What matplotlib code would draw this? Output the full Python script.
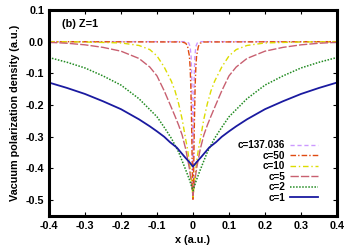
import numpy as np
import matplotlib
matplotlib.use("Agg")
import matplotlib.pyplot as plt

plt.rcParams['font.family'] = ['Liberation Sans', 'DejaVu Sans']
plt.rcParams['font.weight'] = 'bold'

# one-sided samples (x >= 0), curves are symmetric about x = 0
x_c1 = [0.0, 0.01, 0.022, 0.045, 0.064, 0.08, 0.1, 0.12, 0.15, 0.2, 0.25, 0.3, 0.35, 0.4]
y_c1 = [-0.394, -0.38, -0.365, -0.334, -0.317, -0.30, -0.283, -0.267, -0.245, -0.213, -0.188, -0.165, -0.146, -0.129]

x_c2 = [0.0, 0.01, 0.02, 0.04, 0.06, 0.08, 0.1, 0.15, 0.2, 0.25, 0.3, 0.35, 0.4]
y_c2 = [-0.47, -0.435, -0.405, -0.348, -0.305, -0.27, -0.237, -0.18, -0.137, -0.108, -0.083, -0.065, -0.05]

x_c5 = [0.0, 0.005, 0.01, 0.02, 0.03, 0.04, 0.05, 0.06, 0.08, 0.1, 0.12, 0.15, 0.2, 0.25, 0.3, 0.35, 0.4]
y_c5 = [-0.485, -0.44, -0.40, -0.34, -0.295, -0.263, -0.235, -0.208, -0.155, -0.108, -0.08, -0.053, -0.03, -0.018, -0.01, -0.005, -0.002]

x_c10 = [0.0, 0.005, 0.01, 0.015, 0.02, 0.03, 0.04, 0.05, 0.06, 0.08, 0.1, 0.12, 0.15, 0.2, 0.3, 0.4]
y_c10 = [-0.49, -0.43, -0.38, -0.34, -0.31, -0.245, -0.195, -0.155, -0.125, -0.08, -0.045, -0.025, -0.012, -0.004, -0.001, 0.0]

x_c50 = [0.0, 0.001, 0.002, 0.003, 0.004, 0.006, 0.008, 0.01, 0.015, 0.02, 0.03, 0.4]
y_c50 = [-0.50, -0.46, -0.40, -0.32, -0.25, -0.14, -0.08, -0.045, -0.015, -0.005, -0.001, 0.0]

x_c137 = [0.0, 0.0005, 0.001, 0.002, 0.003, 0.005, 0.008, 0.012, 0.02, 0.4]
y_c137 = [-0.50, -0.44, -0.36, -0.22, -0.13, -0.05, -0.015, -0.004, 0.0, 0.0]

labels = ["c=137.036", "c=50", "c=10", "c=5", "c=2", "c=1"]
colors = ["#cc99ff", "#e04a10", "#dcdc00", "#c86070", "#228b22", "#1a1aa0"]
styles = [(0, (3, 2)), (0, (4, 1.5, 1, 1.5)), (0, (4, 2, 1, 2)), (0, (6, 1.5)), (0, (1, 1)), "-"]
widths = [1.0, 1.0, 1.0, 1.0, 1.1, 1.3]

xticks = [-0.4, -0.3, -0.2, -0.1, 0.0, 0.1, 0.2, 0.3, 0.4]
xticklabels = ["-0.4", "-0.3", "-0.2", "-0.1", "0", "0.1", "0.2", "0.3", "0.4"]
yticks = [-0.5, -0.4, -0.3, -0.2, -0.1, 0.0, 0.1]
yticklabels = ["-0.5", "-0.4", "-0.3", "-0.2", "-0.1", "0.0", "0.1"]

def mirror(xs, ys):
    xs = np.asarray(xs)
    ys = np.asarray(ys)
    return np.concatenate([-xs[::-1], xs[1:]]), np.concatenate([ys[::-1], ys[1:]])

series = [(x_c137, y_c137), (x_c50, y_c50), (x_c10, y_c10), (x_c5, y_c5), (x_c2, y_c2), (x_c1, y_c1)]

fig = plt.figure(figsize=(3.56, 2.49), dpi=100)
ax = fig.add_axes([0.1376, 0.1325, 0.809, 0.8275])

for (xs, ys), lab, col, ls, lw in zip(series, labels, colors, styles, widths):
    xx, yy = mirror(xs, ys)
    ax.plot(xx, yy, color=col, linestyle=ls, linewidth=lw, label=lab)

fs = 7.8
ax.set_xlim(-0.4, 0.4)
ax.set_ylim(-0.55, 0.1)
ax.set_xticks(xticks)
ax.set_xticklabels(xticklabels, fontweight='bold')
ax.set_yticks(yticks)
ax.set_yticklabels(yticklabels, fontweight='bold')
ax.tick_params(direction='in', top=True, right=True, length=3, width=0.8,
               labelsize=fs, pad=3.5)
for s in ax.spines.values():
    s.set_linewidth(2.2)

ax.set_xlabel("x (a.u.)", fontsize=fs, fontweight='bold', labelpad=3)
ax.set_ylabel("Vacuum polarization density (a.u.)", fontsize=fs, fontweight='bold', labelpad=4)
ax.text(0.045, 0.955, "(b) Z=1", transform=ax.transAxes, fontsize=fs, fontweight='bold', va='top')

leg = ax.legend(loc='lower right', bbox_to_anchor=(0.955, 0.035), frameon=False,
                fontsize=7.2, markerfirst=False, handlelength=2.8, handletextpad=0.5,
                labelspacing=0.05, borderaxespad=0.2)
for t in leg.get_texts():
    t.set_fontweight('bold')
# right-align the rows so the labels line up on their right edge
for col in leg._legend_box._children[-1]._children:
    col.align = 'right'

fig.savefig("out.png", dpi=100)
